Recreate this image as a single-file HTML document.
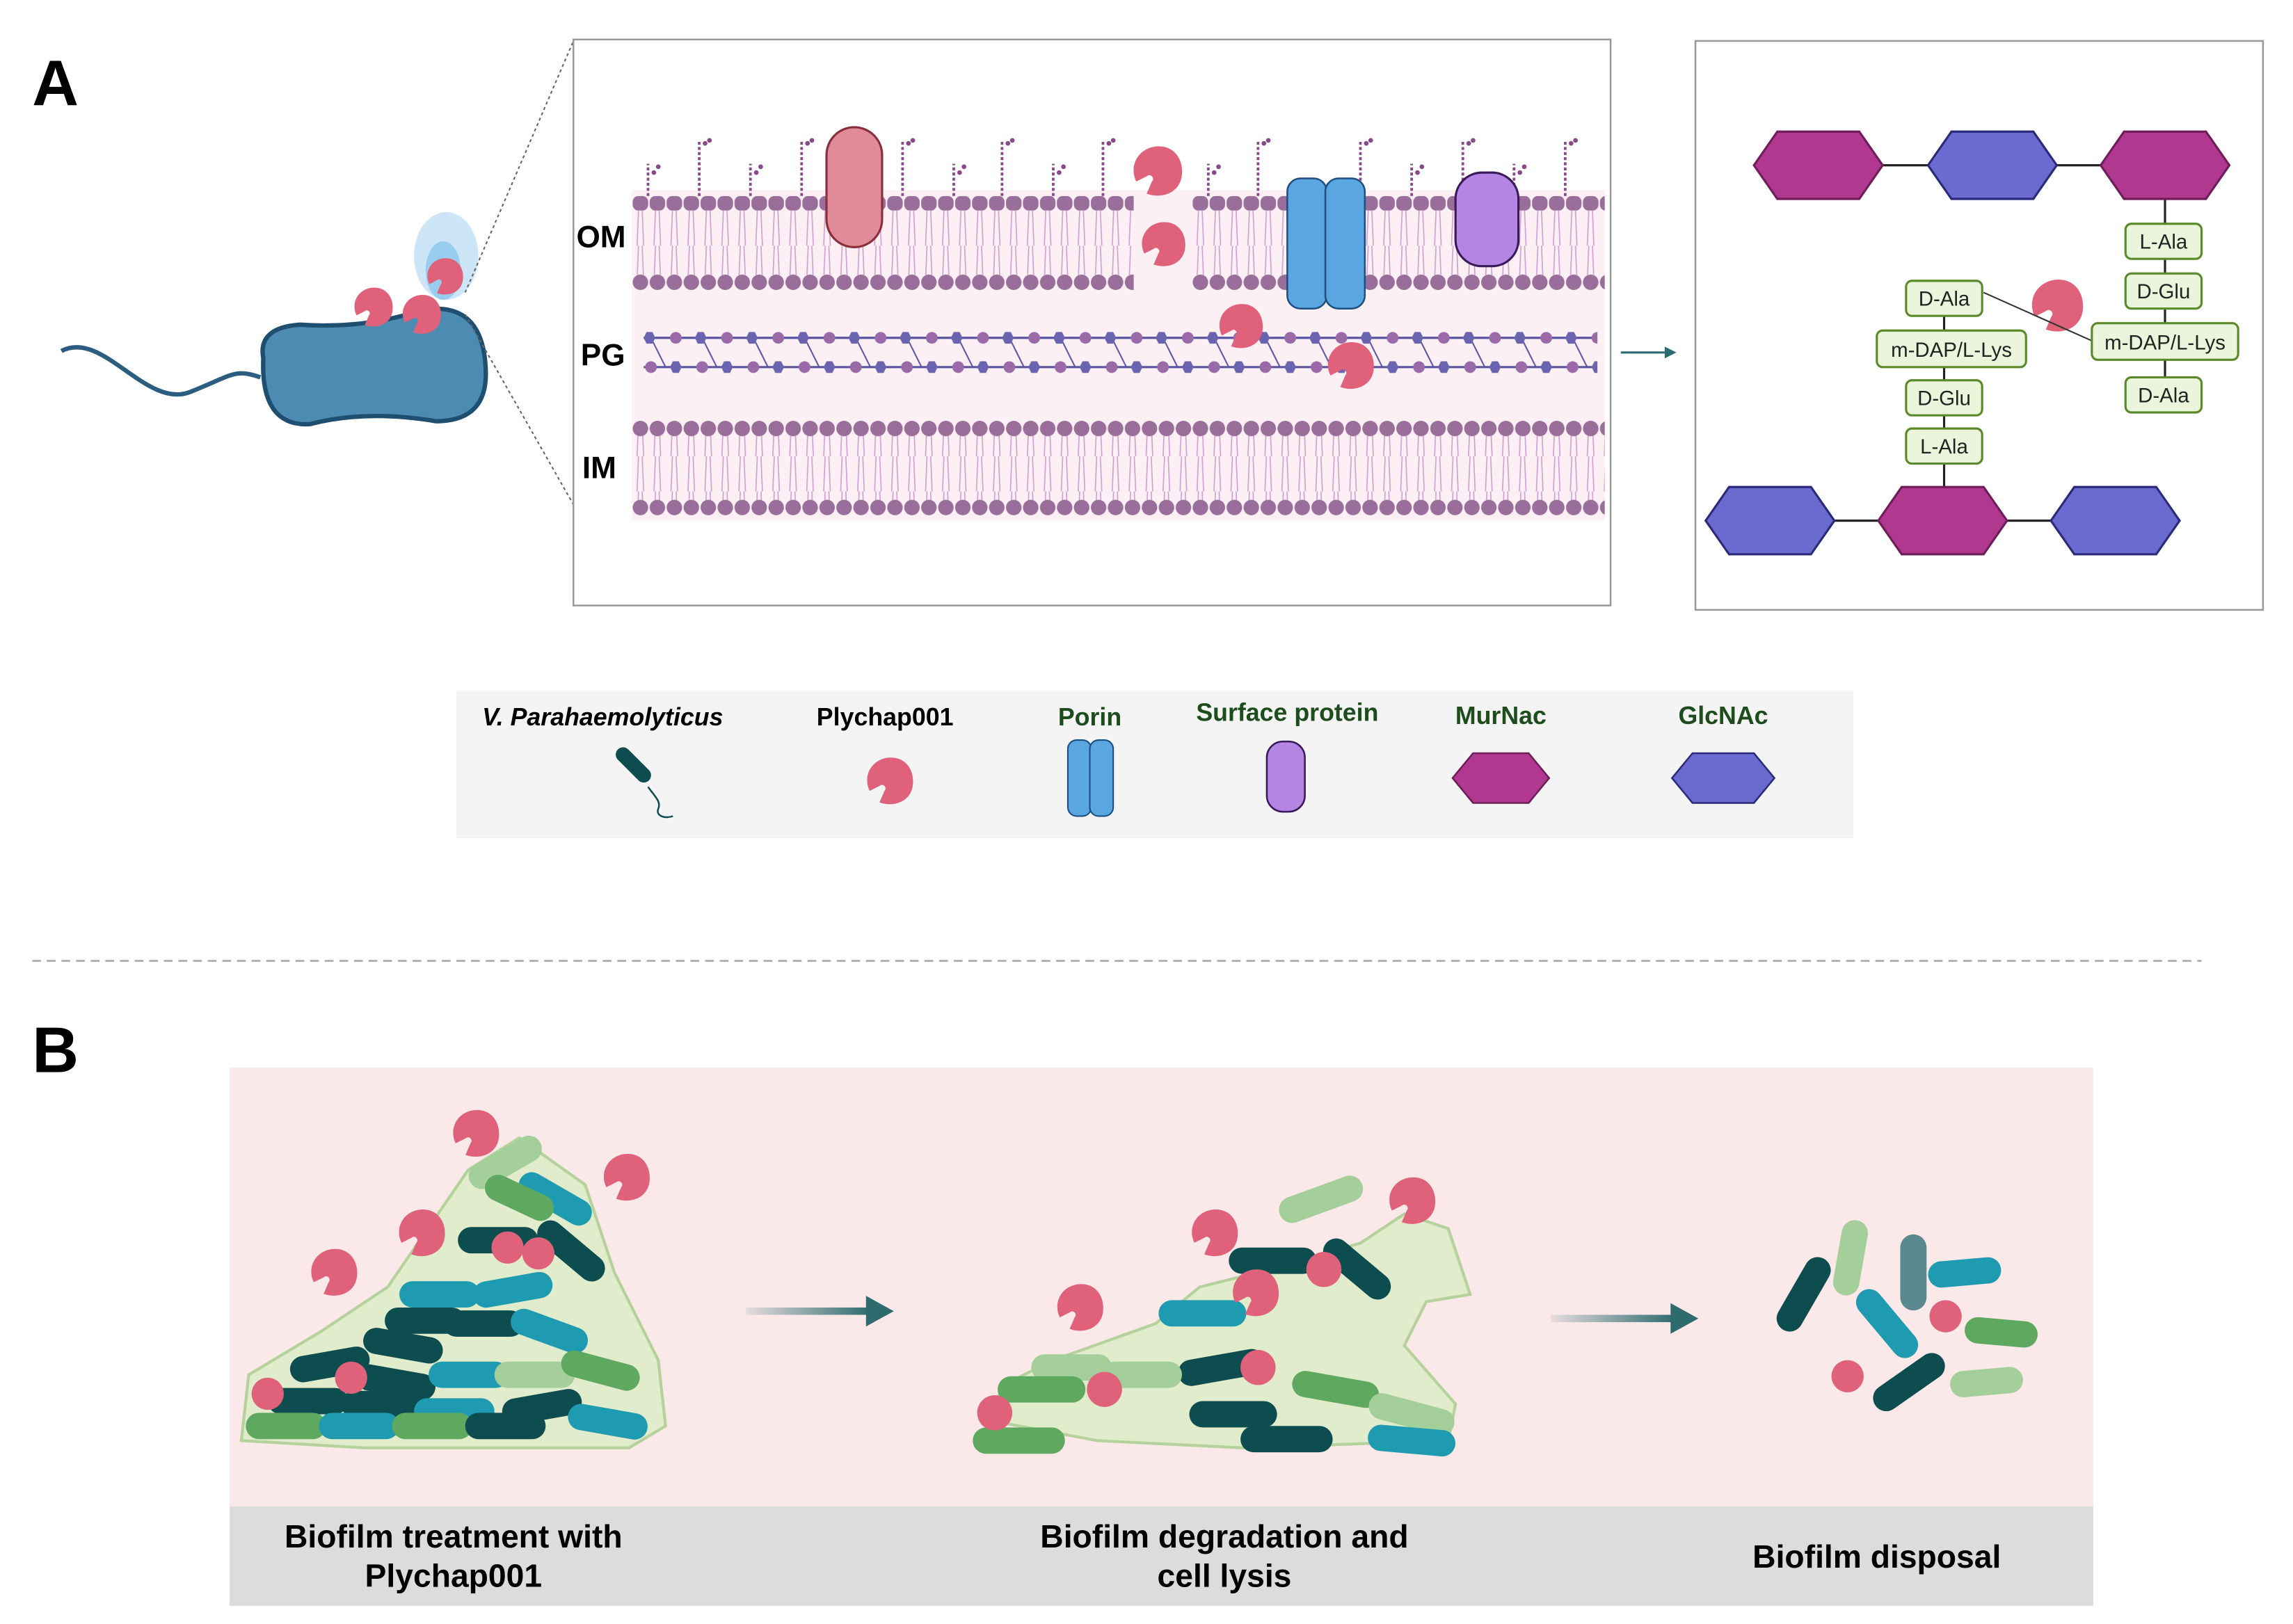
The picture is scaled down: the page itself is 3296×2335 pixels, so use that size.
<!DOCTYPE html>
<html><head><meta charset="utf-8"><style>
html,body{margin:0;padding:0;background:#fff}
svg{display:block}
text{font-family:"Liberation Sans",sans-serif}
</style></head><body>
<svg width="3296" height="2335" viewBox="0 0 1567.5 1110.4" preserveAspectRatio="none" xmlns="http://www.w3.org/2000/svg">
<defs>
<symbol id="p" viewBox="-16 -16 32 32"><path d="M-2,-14 C10,-16 16,-6 14,4 C12,13 2,16 -6,13 L-3,6 C-1,4 -4,1 -6,3 L-12,6 C-16,-2 -12,-12 -2,-14Z" fill="#e0627a"/></symbol>
<pattern id="hTop" width="11.6" height="12" patternUnits="userSpaceOnUse" x="432" y="134"><rect x="0.5" y="0" width="10.6" height="10" rx="4" fill="#9a6e9a"/></pattern>
<pattern id="hC" width="11.6" height="12" patternUnits="userSpaceOnUse" x="432" y="187"><circle cx="5.8" cy="6" r="5.3" fill="#9a6e9a"/></pattern>
<pattern id="hC2" width="11.6" height="12" patternUnits="userSpaceOnUse" x="432" y="287"><circle cx="5.8" cy="6" r="5.3" fill="#9a6e9a"/></pattern>
<pattern id="hC3" width="11.6" height="12" patternUnits="userSpaceOnUse" x="432" y="341"><circle cx="5.8" cy="6" r="5.3" fill="#9a6e9a"/></pattern>
<pattern id="tl" width="11.6" height="24" patternUnits="userSpaceOnUse" x="432" y="0"><path d="M4.5,0 L3.5,24 M7,0 L8,24" stroke="#cfa0cf" stroke-width="0.8" fill="none"/></pattern>
<pattern id="pg" width="35" height="30" patternUnits="userSpaceOnUse" x="440" y="226"><line x1="5" y1="5" x2="15" y2="25" stroke="#5a55a0" stroke-width="1"/><polygon points="2,1 6,1 8,5 6,9 2,9 0,5" fill="#6a64b0"/><circle cx="22" cy="5" r="4" fill="#9a6aa8"/><circle cx="5" cy="25" r="4" fill="#9a6aa8"/><polygon points="20,21 24,21 26,25 24,29 20,29 18,25" fill="#6a64b0"/></pattern>
</defs>

<text x="22" y="72" font-size="44" font-weight="bold">A</text>

<!-- bacterium -->
<path d="M42,240 C70,225 100,280 130,268 S160,252 178,258" stroke="#2a5d7f" stroke-width="3" fill="none"/>
<ellipse cx="305" cy="175" rx="22" ry="30" fill="#bfe0f5" opacity="0.8"/>
<ellipse cx="303" cy="185" rx="12" ry="20" fill="#8cc7ec" opacity="0.8"/>
<path d="M180,245 Q176,224 205,222 Q250,225 288,212 Q330,205 332,252 Q334,288 298,288 Q250,280 212,290 Q178,292 180,245Z" fill="#4c8cb3" stroke="#1f4f70" stroke-width="3"/>
<use href="#p" x="240" y="195" width="30" height="30"/>
<use href="#p" x="273" y="200" width="30" height="30"/>
<use href="#p" x="290" y="175" width="28" height="28"/>
<line x1="318" y1="200" x2="392" y2="28" stroke="#666" stroke-dasharray="2,2"/>
<line x1="318" y1="215" x2="392" y2="345" stroke="#666" stroke-dasharray="2,2"/>

<!-- membrane panel -->
<rect x="392" y="27" width="709" height="387" fill="#fff" stroke="#999" stroke-width="1.2"/>
<rect x="432" y="130" width="665" height="226" fill="#fcf0f5"/>
<g fill="url(#tl)">
<rect x="432" y="144" width="343" height="24"/><rect x="815" y="144" width="280" height="24"/>
<rect x="432" y="168" width="343" height="20"/><rect x="815" y="168" width="280" height="20"/>
<rect x="432" y="298" width="665" height="22"/><rect x="432" y="320" width="665" height="22"/>
</g>
<rect x="432" y="134" width="343" height="10" fill="url(#hTop)"/><rect x="815" y="134" width="282" height="10" fill="url(#hTop)"/>
<rect x="432" y="187" width="343" height="12" fill="url(#hC)"/><rect x="815" y="187" width="282" height="12" fill="url(#hC)"/>
<rect x="432" y="287" width="665" height="12" fill="url(#hC2)"/>
<rect x="432" y="341" width="665" height="12" fill="url(#hC3)"/>
<g stroke="#8a4a8a" stroke-width="1.8" stroke-dasharray="2,1.5" fill="none">
<path d="M443,134V112M478,134V96M513,134V112M548,134V96M617,134V96M652,134V112M685,134V96M720,134V112M754,134V96M826,134V112M860,134V96M930,134V96M965,134V112M1000,134V96M1035,134V112M1070,134V96"/>
</g>
<g fill="#8a4a8a">
<circle cx="447" cy="118" r="1.6"/><circle cx="450" cy="114" r="1.6"/><circle cx="482" cy="98" r="1.6"/><circle cx="485" cy="96" r="1.6"/><circle cx="517" cy="118" r="1.6"/><circle cx="520" cy="114" r="1.6"/><circle cx="552" cy="98" r="1.6"/><circle cx="555" cy="96" r="1.6"/><circle cx="621" cy="98" r="1.6"/><circle cx="624" cy="96" r="1.6"/><circle cx="656" cy="118" r="1.6"/><circle cx="659" cy="114" r="1.6"/><circle cx="689" cy="98" r="1.6"/><circle cx="692" cy="96" r="1.6"/><circle cx="724" cy="118" r="1.6"/><circle cx="727" cy="114" r="1.6"/><circle cx="758" cy="98" r="1.6"/><circle cx="761" cy="96" r="1.6"/><circle cx="830" cy="118" r="1.6"/><circle cx="833" cy="114" r="1.6"/><circle cx="864" cy="98" r="1.6"/><circle cx="867" cy="96" r="1.6"/><circle cx="934" cy="98" r="1.6"/><circle cx="937" cy="96" r="1.6"/><circle cx="969" cy="118" r="1.6"/><circle cx="972" cy="114" r="1.6"/><circle cx="1004" cy="98" r="1.6"/><circle cx="1007" cy="96" r="1.6"/><circle cx="1039" cy="118" r="1.6"/><circle cx="1042" cy="114" r="1.6"/><circle cx="1074" cy="98" r="1.6"/><circle cx="1077" cy="96" r="1.6"/>
</g>
<line x1="440" y1="231" x2="1090" y2="231" stroke="#5a55a0" stroke-width="1.5"/>
<line x1="440" y1="251" x2="1090" y2="251" stroke="#5a55a0" stroke-width="1.5"/>
<rect x="440" y="226" width="652" height="30" fill="url(#pg)"/>
<rect x="565" y="87" width="38" height="82" rx="19" fill="#e08a9a" stroke="#8a2f3a" stroke-width="1.5"/>
<rect x="880" y="122" width="27" height="89" rx="9" fill="#5aa6e0" stroke="#1e4f80" stroke-width="1.2"/>
<rect x="906" y="122" width="27" height="89" rx="9" fill="#5aa6e0" stroke="#1e4f80" stroke-width="1.2"/>
<rect x="995" y="118" width="43" height="64" rx="18" fill="#b585e3" stroke="#3a1a5a" stroke-width="1.5"/>
<use href="#p" x="772" y="96" width="38" height="42"/>
<use href="#p" x="776" y="150" width="38" height="34"/>
<use href="#p" x="828" y="206" width="40" height="34"/>
<use href="#p" x="902" y="232" width="42" height="36"/>
<g font-size="21" font-weight="bold"><text x="394" y="169">OM</text><text x="397" y="250">PG</text><text x="398" y="327">IM</text></g>
<line x1="1108" y1="241" x2="1138" y2="241" stroke="#2e6b6e" stroke-width="1.5"/><polygon points="1138,237 1146,241 1138,245" fill="#2e6b6e"/>

<!-- PG structure panel -->
<rect x="1159" y="28" width="388" height="389" fill="#fff" stroke="#999" stroke-width="1.2"/>
<g stroke="#222" stroke-width="1.5"><line x1="1243" y1="113" x2="1480" y2="113"/><line x1="1210" y1="356" x2="1446" y2="356"/><line x1="1480" y1="113" x2="1480" y2="272"/><line x1="1329" y1="204" x2="1329" y2="356"/></g>
<g stroke-width="1.5">
<polygon points="1199,113 1215,90 1271,90 1287,113 1271,136 1215,136" fill="#b0398f" stroke="#6e1d5a"/>
<polygon points="1318,113 1334,90 1390,90 1406,113 1390,136 1334,136" fill="#6a6acf" stroke="#2a2a7a"/>
<polygon points="1436,113 1452,90 1508,90 1524,113 1508,136 1452,136" fill="#b0398f" stroke="#6e1d5a"/>
<polygon points="1166,356 1182,333 1238,333 1254,356 1238,379 1182,379" fill="#6a6acf" stroke="#2a2a7a"/>
<polygon points="1284,356 1300,333 1356,333 1372,356 1356,379 1300,379" fill="#b0398f" stroke="#6e1d5a"/>
<polygon points="1402,356 1418,333 1474,333 1490,356 1474,379 1418,379" fill="#6a6acf" stroke="#2a2a7a"/>
</g>
<use href="#p" x="1386" y="188" width="40" height="42"/>
<line x1="1356" y1="200" x2="1430" y2="233" stroke="#333" stroke-width="1"/>
<g fill="#eaf5dc" stroke="#5a8a2a" stroke-width="1.5">
<rect x="1453" y="153" width="52" height="24" rx="4"/><rect x="1453" y="187" width="52" height="24" rx="4"/><rect x="1430" y="221" width="100" height="25" rx="4"/><rect x="1453" y="258" width="52" height="24" rx="4"/>
<rect x="1303" y="192" width="52" height="24" rx="4"/><rect x="1283" y="226" width="102" height="25" rx="4"/><rect x="1303" y="260" width="52" height="24" rx="4"/><rect x="1303" y="293" width="52" height="24" rx="4"/>
</g>
<g font-size="14" text-anchor="middle" fill="#222">
<text x="1479" y="170">L-Ala</text><text x="1479" y="204">D-Glu</text><text x="1480" y="239">m-DAP/L-Lys</text><text x="1479" y="275">D-Ala</text>
<text x="1329" y="209">D-Ala</text><text x="1334" y="244">m-DAP/L-Lys</text><text x="1329" y="277">D-Glu</text><text x="1329" y="310">L-Ala</text>
</g>

<!-- legend -->
<rect x="312" y="472" width="955" height="101" fill="#f4f4f4"/>
<g font-size="17" font-weight="bold" text-anchor="middle">
<text x="412" y="496" font-style="italic">V. Parahaemolyticus</text>
<text x="605" y="496">Plychap001</text>
<text x="745" y="496" fill="#1d4d1d">Porin</text>
<text x="880" y="493" fill="#1d4d1d">Surface protein</text>
<text x="1026" y="495" fill="#1d4d1d">MurNac</text>
<text x="1178" y="495" fill="#1d4d1d">GlcNAc</text>
</g>
<rect x="418" y="518" width="30" height="10" rx="5" transform="rotate(45 433 523)" fill="#0e4d4f"/>
<path d="M443,538 C448,545 452,548 450,553 S455,560 460,558" stroke="#0e4d4f" stroke-width="1.2" fill="none"/>
<use href="#p" x="588" y="516" width="40" height="36"/>
<rect x="730" y="506" width="16" height="52" rx="6" fill="#5aa6e0" stroke="#1e4f80"/><rect x="745" y="506" width="16" height="52" rx="6" fill="#5aa6e0" stroke="#1e4f80"/>
<rect x="866" y="507" width="26" height="48" rx="11" fill="#b585e3" stroke="#3a1a5a" stroke-width="1.2"/>
<polygon points="993,532 1007,515 1045,515 1059,532 1045,549 1007,549" fill="#b0398f" stroke="#6e1d5a" stroke-width="1.2"/>
<polygon points="1143,532 1157,515 1199,515 1213,532 1199,549 1157,549" fill="#6a6acf" stroke="#2a2a7a" stroke-width="1.2"/>

<line x1="22" y1="657" x2="1505" y2="657" stroke="#aaa" stroke-width="1.2" stroke-dasharray="6,4"/>

<text x="22" y="733" font-size="44" font-weight="bold">B</text>
<rect x="157" y="730" width="1274" height="300" fill="#fbe9ea"/>
<rect x="157" y="1030" width="1274" height="68" fill="#dcdcdc"/>
<g font-size="22" font-weight="bold" text-anchor="middle">
<text x="310" y="1058">Biofilm treatment with</text><text x="310" y="1085">Plychap001</text>
<text x="837" y="1058">Biofilm degradation and</text><text x="837" y="1085">cell lysis</text>
<text x="1283" y="1072">Biofilm disposal</text>
</g>
<defs><linearGradient id="ag" x1="0" x2="1"><stop offset="0" stop-color="#2e6b6e" stop-opacity="0.1"/><stop offset="1" stop-color="#2e6b6e"/></linearGradient></defs>
<rect x="510" y="894" width="85" height="5" fill="url(#ag)"/><polygon points="592,886 611,896.5 592,907" fill="#2e6b6e"/>
<rect x="1060" y="899" width="85" height="5" fill="url(#ag)"/><polygon points="1142,891 1161,901.5 1142,912" fill="#2e6b6e"/>

<path d="M165,985 L170,940 L220,910 L265,880 L320,800 L355,778 L400,810 L420,870 L450,930 L455,975 L430,990 L250,990Z" fill="#dcedc6" stroke="#a9cf8f" stroke-width="2" opacity="0.85"/>
<path d="M670,970 L690,945 L720,930 L790,905 L820,880 L860,870 L930,850 L960,830 L990,840 L1005,885 L975,890 L960,920 L995,960 L990,985 L850,990 L750,985Z" fill="#dcedc6" stroke="#a9cf8f" stroke-width="2" opacity="0.85"/>

<g>
<rect x="318" y="786" width="55" height="18" rx="9" fill="#a5cf9a" transform="rotate(-30 345 795)"/>
<rect x="352" y="811" width="55" height="18" rx="9" fill="#1e9bb0" transform="rotate(30 380 820)"/>
<rect x="330" y="810" width="50" height="18" rx="9" fill="#5ea860" transform="rotate(25 355 819)"/>
<rect x="313" y="839" width="55" height="18" rx="9" fill="#0e4d4f"/>
<rect x="363" y="846" width="55" height="18" rx="9" fill="#0e4d4f" transform="rotate(40 390 855)"/>
<rect x="273" y="876" width="55" height="18" rx="9" fill="#1e9bb0"/>
<rect x="323" y="873" width="55" height="18" rx="9" fill="#1e9bb0" transform="rotate(-10 350 882)"/>
<rect x="263" y="894" width="55" height="18" rx="9" fill="#0e4d4f"/>
<rect x="303" y="896" width="55" height="18" rx="9" fill="#0e4d4f"/>
<rect x="348" y="901" width="55" height="18" rx="9" fill="#1e9bb0" transform="rotate(20 375 910)"/>
<rect x="198" y="924" width="55" height="18" rx="9" fill="#0e4d4f" transform="rotate(-10 225 933)"/>
<rect x="248" y="911" width="55" height="18" rx="9" fill="#0e4d4f" transform="rotate(10 275 920)"/>
<rect x="243" y="936" width="55" height="18" rx="9" fill="#0e4d4f" transform="rotate(10 270 945)"/>
<rect x="293" y="931" width="55" height="18" rx="9" fill="#1e9bb0"/>
<rect x="338" y="931" width="55" height="18" rx="9" fill="#a5cf9a"/>
<rect x="383" y="928" width="55" height="18" rx="9" fill="#5ea860" transform="rotate(15 410 937)"/>
<rect x="183" y="949" width="55" height="18" rx="9" fill="#0e4d4f"/>
<rect x="233" y="951" width="55" height="18" rx="9" fill="#0e4d4f"/>
<rect x="283" y="956" width="55" height="18" rx="9" fill="#1e9bb0"/>
<rect x="343" y="953" width="55" height="18" rx="9" fill="#0e4d4f" transform="rotate(-10 370 962)"/>
<rect x="168" y="966" width="55" height="18" rx="9" fill="#5ea860"/>
<rect x="218" y="966" width="55" height="18" rx="9" fill="#1e9bb0"/>
<rect x="268" y="966" width="55" height="18" rx="9" fill="#5ea860"/>
<rect x="318" y="966" width="55" height="18" rx="9" fill="#0e4d4f"/>
<rect x="388" y="963" width="55" height="18" rx="9" fill="#1e9bb0" transform="rotate(10 415 972)"/>
<circle cx="347" cy="853" r="11" fill="#e0627a"/><circle cx="368" cy="857" r="11" fill="#e0627a"/><circle cx="183" cy="953" r="11" fill="#e0627a"/><circle cx="240" cy="942" r="11" fill="#e0627a"/>
<use href="#p" x="305" y="757" width="40" height="36"/><use href="#p" x="410" y="785" width="36" height="40"/><use href="#p" x="267" y="825" width="42" height="36"/><use href="#p" x="207" y="852" width="42" height="36"/>
<rect x="873" y="811" width="60" height="18" rx="9" fill="#a5cf9a" transform="rotate(-20 903 820)"/>
<rect x="840" y="853" width="60" height="18" rx="9" fill="#0e4d4f"/>
<rect x="900" y="859" width="55" height="18" rx="9" fill="#0e4d4f" transform="rotate(40 928 868)"/>
<rect x="792" y="889" width="60" height="18" rx="9" fill="#1e9bb0"/>
<rect x="805" y="926" width="60" height="18" rx="9" fill="#0e4d4f" transform="rotate(-10 835 935)"/>
<rect x="883" y="941" width="60" height="18" rx="9" fill="#5ea860" transform="rotate(10 913 950)"/>
<rect x="705" y="926" width="55" height="18" rx="9" fill="#a5cf9a"/>
<rect x="753" y="931" width="55" height="18" rx="9" fill="#a5cf9a"/>
<rect x="682" y="941" width="60" height="18" rx="9" fill="#5ea860"/>
<rect x="935" y="958" width="60" height="18" rx="9" fill="#a5cf9a" transform="rotate(15 965 967)"/>
<rect x="813" y="958" width="60" height="18" rx="9" fill="#0e4d4f"/>
<rect x="665" y="976" width="63" height="18" rx="9" fill="#5ea860"/>
<rect x="848" y="975" width="63" height="18" rx="9" fill="#0e4d4f"/>
<rect x="935" y="976" width="60" height="18" rx="9" fill="#1e9bb0" transform="rotate(5 965 985)"/>
<circle cx="905" cy="868" r="12" fill="#e0627a"/><circle cx="860" cy="935" r="12" fill="#e0627a"/><circle cx="755" cy="950" r="12" fill="#e0627a"/><circle cx="680" cy="966" r="12" fill="#e0627a"/>
<use href="#p" x="810" y="825" width="40" height="36"/><use href="#p" x="945" y="803" width="40" height="36"/><use href="#p" x="838" y="866" width="40" height="36"/><use href="#p" x="718" y="876" width="40" height="36"/>
<rect x="1205" y="876" width="56" height="18" rx="9" fill="#0e4d4f" transform="rotate(-60 1233 885)"/>
<rect x="1239" y="851" width="52" height="18" rx="9" fill="#a5cf9a" transform="rotate(-80 1265 860)"/>
<rect x="1282" y="861" width="52" height="18" rx="9" fill="#5a8a90" transform="rotate(90 1308 870)"/>
<rect x="1318" y="861" width="50" height="18" rx="9" fill="#1e9bb0" transform="rotate(-5 1343 870)"/>
<rect x="1262" y="896" width="56" height="18" rx="9" fill="#1e9bb0" transform="rotate(50 1290 905)"/>
<rect x="1277" y="936" width="56" height="18" rx="9" fill="#0e4d4f" transform="rotate(-35 1305 945)"/>
<rect x="1343" y="902" width="50" height="18" rx="9" fill="#5ea860" transform="rotate(5 1368 911)"/>
<rect x="1333" y="936" width="50" height="18" rx="9" fill="#a5cf9a" transform="rotate(-5 1358 945)"/>
<circle cx="1330" cy="900" r="11" fill="#e0627a"/><circle cx="1263" cy="941" r="11" fill="#e0627a"/>
</g>
</svg>
</body></html>
